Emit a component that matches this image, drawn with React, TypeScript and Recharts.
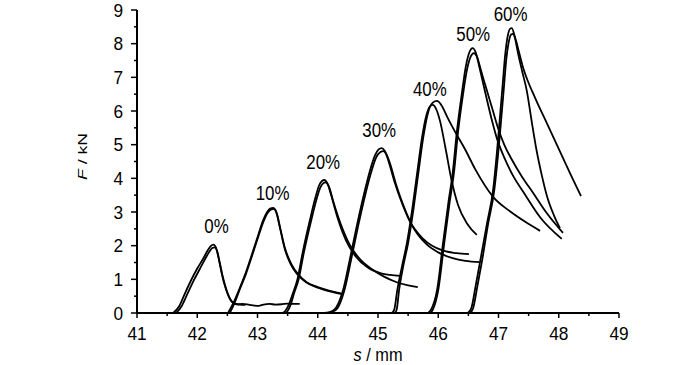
import { LineChart, Line, XAxis, YAxis, ReferenceDot } from 'recharts';

type Pt = [number, number];

// s (mm), F (kN), two test runs per level
const c0a: Pt[] = [[41.6, 0], [41.7, 0.2], [41.8, 0.6], [41.9, 0.98], [42.0, 1.32], [42.1, 1.62], [42.17, 1.85], [42.22, 1.98], [42.27, 2.03], [42.31, 1.94], [42.36, 1.58], [42.41, 1.14], [42.47, 0.74], [42.53, 0.46], [42.59, 0.31], [42.66, 0.26], [42.75, 0.27], [42.85, 0.25], [42.95, 0.22], [43.02, 0.21], [43.1, 0.25], [43.2, 0.27], [43.3, 0.25], [43.4, 0.26], [43.5, 0.28], [43.6, 0.27], [43.7, 0.27]];
const c0b: Pt[] = [[41.65, 0], [41.74, 0.2], [41.84, 0.58], [41.94, 0.96], [42.04, 1.3], [42.13, 1.6], [42.2, 1.82], [42.25, 1.93], [42.29, 1.95], [42.33, 1.84], [42.38, 1.44], [42.43, 1.03], [42.49, 0.66], [42.55, 0.4], [42.61, 0.28], [42.7, 0.25], [42.8, 0.24]];
const c10a: Pt[] = [[42.51, 0], [42.6, 0.3], [42.7, 0.72], [42.8, 1.17], [42.9, 1.7], [43.0, 2.25], [43.09, 2.74], [43.16, 3.0], [43.21, 3.1], [43.26, 3.12], [43.31, 3.0], [43.37, 2.55], [43.45, 1.92], [43.55, 1.45], [43.66, 1.15], [43.8, 0.92], [44.0, 0.75], [44.2, 0.64], [44.4, 0.56]];
const c10b: Pt[] = [[42.54, 0], [42.62, 0.3], [42.71, 0.72], [42.81, 1.17], [42.91, 1.7], [43.01, 2.25], [43.1, 2.72], [43.17, 2.98], [43.22, 3.07], [43.27, 3.09], [43.32, 2.96], [43.38, 2.5], [43.46, 1.9], [43.56, 1.46], [43.68, 1.14], [43.82, 0.91], [44.0, 0.77], [44.2, 0.66], [44.38, 0.59]];
const c20a: Pt[] = [[43.41, 0], [43.46, 0.06], [43.52, 0.25], [43.59, 0.6], [43.66, 0.98], [43.75, 1.8], [43.87, 2.76], [43.96, 3.42], [44.02, 3.78], [44.07, 3.92], [44.11, 3.95], [44.16, 3.85], [44.23, 3.45], [44.33, 2.82], [44.47, 2.15], [44.63, 1.68], [44.83, 1.35], [45.05, 1.18], [45.2, 1.13], [45.37, 1.1]];
const c20b: Pt[] = [[43.46, 0], [43.5, 0.06], [43.55, 0.25], [43.61, 0.6], [43.68, 0.98], [43.77, 1.8], [43.89, 2.74], [43.98, 3.38], [44.04, 3.72], [44.09, 3.85], [44.13, 3.88], [44.18, 3.78], [44.26, 3.3], [44.38, 2.65], [44.53, 2.03], [44.7, 1.6], [44.9, 1.3], [45.1, 1.08], [45.3, 0.92], [45.5, 0.82], [45.66, 0.77]];
const c30a: Pt[] = [[44.1, 0], [44.2, 0.03], [44.3, 0.15], [44.42, 0.68], [44.53, 1.57], [44.65, 2.6], [44.77, 3.55], [44.87, 4.25], [44.95, 4.68], [45.01, 4.86], [45.06, 4.9], [45.11, 4.82], [45.18, 4.48], [45.27, 3.92], [45.38, 3.35], [45.53, 2.72], [45.75, 2.2], [46.08, 1.85], [46.3, 1.78], [46.51, 1.75]];
const c30b: Pt[] = [[44.15, 0], [44.24, 0.03], [44.33, 0.15], [44.44, 0.66], [44.55, 1.55], [44.67, 2.58], [44.79, 3.52], [44.89, 4.2], [44.97, 4.62], [45.04, 4.78], [45.09, 4.81], [45.14, 4.72], [45.21, 4.38], [45.3, 3.82], [45.41, 3.25], [45.56, 2.62], [45.8, 2.05], [46.0, 1.8], [46.24, 1.63], [46.45, 1.55], [46.69, 1.51]];
const c40a: Pt[] = [[45.23, 0], [45.27, 0.1], [45.32, 0.68], [45.4, 1.4], [45.48, 2.08], [45.57, 3.1], [45.65, 4.16], [45.73, 5.2], [45.8, 5.85], [45.86, 6.13], [45.91, 6.18], [45.96, 6.08], [46.03, 5.7], [46.12, 4.9], [46.22, 3.95], [46.33, 3.2], [46.48, 2.65], [46.64, 2.32]];
const c40b: Pt[] = [[45.28, 0], [45.31, 0.1], [45.35, 0.68], [45.42, 1.4], [45.5, 2.08], [45.59, 3.1], [45.67, 4.16], [45.75, 5.2], [45.83, 5.95], [45.91, 6.25], [45.98, 6.3], [46.05, 6.18], [46.15, 5.82], [46.28, 5.38], [46.44, 4.88], [46.62, 4.25], [46.91, 3.45], [47.19, 3.02], [47.45, 2.7], [47.69, 2.44]];
const c50a: Pt[] = [[45.83, 0], [45.88, 0.1], [45.98, 0.68], [46.08, 2.08], [46.17, 3.3], [46.24, 4.16], [46.31, 5.4], [46.39, 6.5], [46.46, 7.35], [46.52, 7.76], [46.57, 7.87], [46.62, 7.75], [46.69, 7.25], [46.78, 6.55], [46.88, 5.8], [46.98, 5.15], [47.1, 4.6], [47.25, 4.05], [47.41, 3.6], [47.7, 2.82], [48.05, 2.2]];
const c50b: Pt[] = [[45.87, 0], [45.91, 0.1], [46.0, 0.68], [46.1, 2.08], [46.19, 3.3], [46.26, 4.16], [46.33, 5.4], [46.41, 6.48], [46.48, 7.25], [46.54, 7.62], [46.59, 7.72], [46.64, 7.62], [46.71, 7.2], [46.8, 6.65], [46.9, 6.05], [47.0, 5.45], [47.1, 4.98], [47.22, 4.56], [47.4, 4.02], [47.57, 3.58], [47.8, 2.97], [48.07, 2.38]];
const c60a: Pt[] = [[46.49, 0], [46.55, 0.15], [46.62, 0.8], [46.69, 1.48], [46.81, 2.67], [46.91, 3.65], [46.97, 4.7], [47.02, 5.73], [47.07, 6.8], [47.11, 7.65], [47.15, 8.2], [47.19, 8.44], [47.22, 8.46], [47.26, 8.28], [47.32, 7.75], [47.39, 7.2], [47.47, 6.6], [47.55, 5.7], [47.63, 4.85], [47.72, 4.08], [47.8, 3.5], [47.92, 2.9], [48.02, 2.52]];
const c60b: Pt[] = [[46.53, 0], [46.58, 0.15], [46.65, 0.8], [46.72, 1.48], [46.83, 2.67], [46.93, 3.65], [46.99, 4.65], [47.04, 5.65], [47.09, 6.7], [47.13, 7.55], [47.17, 8.05], [47.21, 8.27], [47.24, 8.29], [47.28, 8.15], [47.34, 7.75], [47.41, 7.28], [47.48, 6.92], [47.56, 6.58], [47.65, 6.22], [47.75, 5.84], [47.9, 5.26], [48.05, 4.68], [48.2, 4.1], [48.37, 3.47]];

const curves = [c0a, c0b, c10a, c10b, c20a, c20b, c30a, c30b, c40a, c40b, c50a, c50b, c60a, c60b];

const labelText = ['0%', '10%', '20%', '30%', '40%', '50%', '60%'];
const labelS = [42.32, 43.25, 44.09, 45.02, 45.86, 46.58, 47.2];
const labelF = [2.38, 3.36, 4.28, 5.23, 6.45, 8.08, 8.67];

const xTicks = [41, 41.5, 42, 42.5, 43, 43.5, 44, 44.5, 45, 45.5, 46, 46.5, 47, 47.5, 48, 48.5, 49];
const yTicks = [0, 0.5, 1, 1.5, 2, 2.5, 3, 3.5, 4, 4.5, 5, 5.5, 6, 6.5, 7, 7.5, 8, 8.5, 9];

const font = '"Liberation Sans", Arial, sans-serif';

const YTick = (props: any) => {
  const { x, y, payload } = props;
  const major = Number.isInteger(payload.value);
  const ax = x + 14;
  const t = String(payload.value);
  return (
    <g>
      <line x1={ax - (major ? 6 : 3)} x2={ax} y1={y} y2={y} stroke="#000" strokeWidth={1.5} />
      {major && (
        <text x={x} y={y} textAnchor="end" dy="0.36em" fontSize={18.5} fontFamily={font} fill="#000" textLength={t.length * 9.6} lengthAdjust="spacingAndGlyphs">
          {t}
        </text>
      )}
    </g>
  );
};

const XTick = (props: any) => {
  const { x, y, payload } = props;
  const major = Number.isInteger(payload.value);
  const ay = y - 14;
  const t = String(payload.value);
  return (
    <g>
      <line x1={x} x2={x} y1={ay} y2={ay + (major ? 5 : 3)} stroke="#000" strokeWidth={1.5} />
      {major && (
        <text x={x} y={y} textAnchor="middle" dy="0.72em" fontSize={18.5} fontFamily={font} fill="#000" textLength={t.length * 9.6} lengthAdjust="spacingAndGlyphs">
          {t}
        </text>
      )}
    </g>
  );
};

const XTitle = (props: any) => {
  const vb = props.viewBox;
  return (
    <text x={vb.x + vb.width / 2} y={vb.y + 48} textAnchor="middle" fontSize={18} fontFamily={font} fill="#000" textLength={49} lengthAdjust="spacingAndGlyphs">
      <tspan fontStyle="italic">s</tspan> / mm
    </text>
  );
};

const YTitle = (props: any) => {
  const vb = props.viewBox;
  const cx = vb.x + 87;
  const cy = vb.y + vb.height / 2 - 5;
  return (
    <text x={cx} y={cy} transform={`rotate(-90, ${cx}, ${cy})`} textAnchor="middle" fontSize={13} fontFamily={font} fill="#000" textLength={47} lengthAdjust="spacingAndGlyphs">
      <tspan fontStyle="italic">F</tspan> / kN
    </text>
  );
};

const PctLabel = (text: string) => (props: any) => (
  <text x={props.cx} y={props.cy} textAnchor="middle" fontSize={20} fontFamily={font} fill="#000" textLength={(text.length - 1) * 9.4 + 15} lengthAdjust="spacingAndGlyphs">
    {text}
  </text>
);

export default function App() {
  return (
    <div style={{ width: 700, height: 365, background: '#fff' }}>
      <style>{'body{margin:0}'}</style>
      <LineChart width={700} height={365} margin={{ top: 10, right: 81, left: 0, bottom: 0 }}>
        <XAxis
          dataKey="s"
          type="number"
          domain={[41, 49]}
          ticks={xTicks}
          interval={0}
          allowDataOverflow
          height={52}
          tickSize={5}
          tickMargin={9}
          tickLine={false}
          tick={<XTick />}
          axisLine={{ stroke: '#000', strokeWidth: 2 }}
          label={XTitle}
        />
        <YAxis
          type="number"
          domain={[0, 9]}
          ticks={yTicks}
          interval={0}
          allowDataOverflow
          width={137}
          tickSize={6}
          tickMargin={8}
          tickLine={false}
          tick={<YTick />}
          axisLine={{ stroke: '#000', strokeWidth: 2 }}
          label={YTitle}
        />
        {curves.map((c, i) => (
          <Line
            key={i}
            data={c.map(([s, F]) => ({ s, F }))}
            dataKey="F"
            type="monotone"
            stroke="#000"
            strokeWidth={1.8}
            dot={false}
            activeDot={false}
            isAnimationActive={false}
          />
        ))}
        {labelText.map((t, i) => (
          <ReferenceDot key={t} x={labelS[i]} y={labelF[i]} r={0} ifOverflow="visible" shape={PctLabel(t)} />
        ))}
      </LineChart>
    </div>
  );
}
